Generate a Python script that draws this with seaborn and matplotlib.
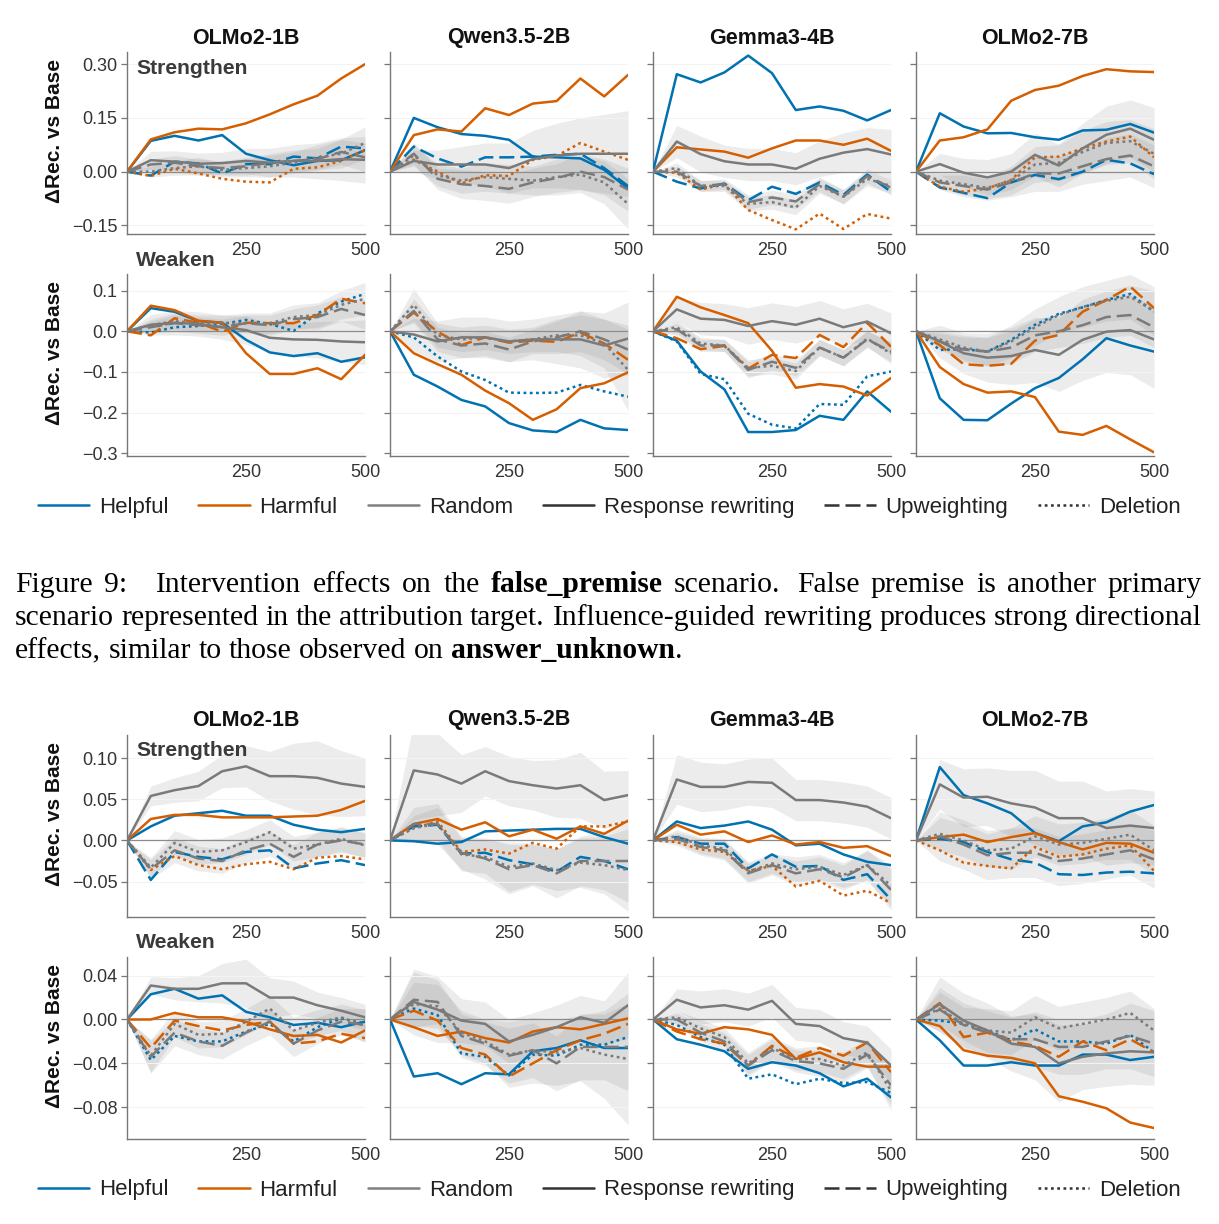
## Import libraries
import matplotlib
matplotlib.use('Agg')
import matplotlib.pyplot as plt
import pandas as pd
import seaborn as sns
from matplotlib.lines import Line2D

## Shared axes data
steps = [0, 50, 100, 150, 200, 250, 300, 350, 400, 450, 500]
models = ['OLMo2-1B', 'Qwen3.5-2B', 'Gemma3-4B', 'OLMo2-7B']
sources = ['Helpful', 'Harmful', 'Random']
methods = ['Response rewriting', 'Upweighting', 'Deletion']

## Block 1 (false_premise) - Strengthen row
fp_s1_help_rw = [0, 0.086, 0.10, 0.087, 0.102, 0.05, 0.032, 0.018, 0.03, 0.032, 0.06]
fp_s1_help_up = [0, -0.011, 0.028, 0.023, -0.005, 0.021, 0.021, 0.042, 0.037, 0.07, 0.065]
fp_s1_harm_rw = [0, 0.09, 0.11, 0.12, 0.118, 0.135, 0.16, 0.188, 0.212, 0.26, 0.30]
fp_s1_harm_del = [0, -0.012, 0.008, -0.005, -0.02, -0.028, -0.03, 0.008, 0.012, 0.03, 0.06]
fp_s1_rand_rw = [0, 0.032, 0.028, 0.022, 0.024, 0.03, 0.025, 0.03, 0.03, 0.035, 0.033]
fp_s1_rand_up = [0, 0.02, 0.025, 0.015, 0.01, 0.015, 0.025, 0.03, 0.035, 0.055, 0.04]
fp_s1_rand_del = [0, 0.0, 0.01, 0.015, 0.005, 0.01, 0.015, 0.025, 0.04, 0.05, 0.08]
fp_s1_hw_rw = [0, 0.025, 0.03, 0.03, 0.03, 0.035, 0.04, 0.045, 0.05, 0.06, 0.065]
fp_s1_hw_up = [0, 0.015, 0.02, 0.02, 0.02, 0.025, 0.025, 0.03, 0.03, 0.035, 0.04]
fp_s1_hw_del = [0, 0.015, 0.02, 0.025, 0.02, 0.025, 0.03, 0.03, 0.035, 0.04, 0.045]

fp_s2_help_rw = [0, 0.15, 0.124, 0.105, 0.10, 0.089, 0.042, 0.04, 0.037, 0.005, -0.047]
fp_s2_help_up = [0, 0.07, 0.037, 0.014, 0.04, 0.04, 0.042, 0.047, 0.05, 0.01, -0.04]
fp_s2_harm_rw = [0, 0.102, 0.118, 0.112, 0.177, 0.158, 0.19, 0.197, 0.26, 0.21, 0.27]
fp_s2_harm_del = [0, 0.033, 0.0, -0.033, -0.01, -0.012, 0.033, 0.044, 0.08, 0.056, 0.033]
fp_s2_rand_rw = [0, 0.03, 0.02, 0.02, 0.02, 0.01, 0.035, 0.045, 0.05, 0.05, 0.05]
fp_s2_rand_up = [0, 0.05, -0.02, -0.035, -0.04, -0.048, -0.03, -0.018, 0.0, -0.015, -0.05]
fp_s2_rand_del = [0, 0.045, -0.01, -0.025, -0.015, -0.02, -0.025, -0.015, -0.008, -0.03, -0.09]
fp_s2_hw_rw = [0, 0.03, 0.04, 0.05, 0.06, 0.07, 0.08, 0.09, 0.10, 0.11, 0.12]
fp_s2_hw_up = [0, 0.03, 0.03, 0.04, 0.04, 0.04, 0.04, 0.04, 0.05, 0.05, 0.06]
fp_s2_hw_del = [0, 0.03, 0.03, 0.035, 0.04, 0.04, 0.04, 0.05, 0.05, 0.06, 0.07]

fp_s3_help_rw = [0, 0.272, 0.249, 0.277, 0.324, 0.275, 0.172, 0.182, 0.17, 0.143, 0.172]
fp_s3_help_up = [0, -0.028, -0.047, -0.033, -0.08, -0.042, -0.062, -0.03, -0.065, -0.008, -0.056]
fp_s3_harm_rw = [0, 0.068, 0.062, 0.056, 0.039, 0.065, 0.087, 0.087, 0.075, 0.092, 0.058]
fp_s3_harm_del = [0, -0.003, -0.05, -0.035, -0.107, -0.135, -0.161, -0.117, -0.16, -0.118, -0.131]
fp_s3_rand_rw = [0, 0.084, 0.049, 0.029, 0.02, 0.02, 0.008, 0.036, 0.053, 0.063, 0.048]
fp_s3_rand_up = [0, 0.0, -0.04, -0.035, -0.085, -0.072, -0.083, -0.035, -0.07, -0.012, -0.045]
fp_s3_rand_del = [0, 0.01, -0.04, -0.04, -0.09, -0.085, -0.1, -0.04, -0.07, -0.02, -0.04]
fp_s3_hw_rw = [0, 0.045, 0.05, 0.045, 0.045, 0.045, 0.045, 0.05, 0.055, 0.06, 0.07]
fp_s3_hw_up = [0, 0.015, 0.015, 0.015, 0.02, 0.02, 0.02, 0.02, 0.02, 0.02, 0.02]
fp_s3_hw_del = [0, 0.015, 0.015, 0.015, 0.02, 0.02, 0.02, 0.02, 0.02, 0.02, 0.02]

fp_s4_help_rw = [0, 0.163, 0.126, 0.107, 0.108, 0.096, 0.089, 0.115, 0.117, 0.133, 0.109]
fp_s4_help_up = [0, -0.044, -0.059, -0.074, -0.03, -0.009, -0.021, 0.0, 0.033, 0.023, -0.007]
fp_s4_harm_rw = [0, 0.087, 0.096, 0.118, 0.198, 0.228, 0.24, 0.267, 0.286, 0.28, 0.278]
fp_s4_harm_del = [0, -0.042, -0.056, -0.047, -0.023, 0.04, 0.042, 0.065, 0.084, 0.098, 0.04]
fp_s4_rand_rw = [0, 0.021, -0.003, -0.016, 0.0, 0.047, 0.017, 0.065, 0.103, 0.12, 0.089]
fp_s4_rand_up = [0, -0.03, -0.04, -0.05, -0.03, -0.005, -0.005, 0.015, 0.035, 0.045, 0.015]
fp_s4_rand_del = [0, -0.025, -0.035, -0.045, -0.025, 0.02, 0.025, 0.055, 0.08, 0.085, 0.05]
fp_s4_hw_rw = [0, 0.03, 0.04, 0.05, 0.05, 0.06, 0.06, 0.07, 0.08, 0.08, 0.09]
fp_s4_hw_up = [0, 0.02, 0.03, 0.03, 0.04, 0.05, 0.05, 0.05, 0.06, 0.06, 0.06]
fp_s4_hw_del = [0, 0.02, 0.03, 0.03, 0.04, 0.05, 0.05, 0.06, 0.06, 0.06, 0.07]

## Block 1 (false_premise) - Weaken row
fp_w1_help_rw = [0, 0.057, 0.048, 0.025, 0.021, -0.021, -0.052, -0.061, -0.054, -0.075, -0.064]
fp_w1_help_del = [0, -0.003, 0.01, 0.013, 0.018, 0.028, 0.018, 0.001, 0.044, 0.073, 0.092]
fp_w1_harm_rw = [0, 0.063, 0.052, 0.026, 0.021, -0.054, -0.105, -0.105, -0.091, -0.118, -0.058]
fp_w1_harm_up = [0, -0.01, 0.032, 0.021, -0.001, 0.021, 0.02, 0.02, 0.04, 0.08, 0.069]
fp_w1_rand_rw = [0, 0.016, 0.021, 0.018, 0.01, 0.003, -0.016, -0.02, -0.021, -0.025, -0.027]
fp_w1_rand_up = [0, 0.01, 0.02, 0.015, 0.01, 0.02, 0.015, 0.03, 0.035, 0.055, 0.04]
fp_w1_rand_del = [0, 0.015, 0.025, 0.02, 0.02, 0.02, 0.02, 0.035, 0.04, 0.065, 0.08]
fp_w1_hw_rw = [0, 0.025, 0.03, 0.03, 0.03, 0.035, 0.035, 0.04, 0.045, 0.05, 0.055]
fp_w1_hw_up = [0, 0.015, 0.02, 0.02, 0.02, 0.02, 0.025, 0.025, 0.03, 0.03, 0.035]
fp_w1_hw_del = [0, 0.015, 0.02, 0.02, 0.02, 0.025, 0.025, 0.03, 0.03, 0.035, 0.04]

fp_w2_help_rw = [0, -0.107, -0.136, -0.169, -0.185, -0.226, -0.244, -0.248, -0.218, -0.239, -0.243]
fp_w2_help_del = [0, -0.015, -0.062, -0.099, -0.12, -0.151, -0.152, -0.151, -0.132, -0.148, -0.161]
fp_w2_harm_rw = [0, -0.054, -0.081, -0.107, -0.146, -0.177, -0.218, -0.192, -0.14, -0.128, -0.101]
fp_w2_harm_up = [0, 0.046, -0.001, -0.034, -0.015, -0.028, -0.023, -0.026, -0.003, -0.03, -0.07]
fp_w2_rand_rw = [0, -0.008, -0.025, -0.015, -0.015, -0.025, -0.02, -0.02, -0.02, -0.035, -0.018]
fp_w2_rand_up = [0, 0.05, -0.02, -0.035, -0.03, -0.045, -0.025, -0.015, 0.0, -0.02, -0.045]
fp_w2_rand_del = [0, 0.065, -0.01, -0.02, -0.015, -0.025, -0.02, -0.01, -0.01, -0.03, -0.095]
fp_w2_hw_rw = [0, 0.04, 0.05, 0.05, 0.05, 0.05, 0.05, 0.06, 0.07, 0.08, 0.09]
fp_w2_hw_up = [0, 0.03, 0.03, 0.03, 0.03, 0.03, 0.03, 0.04, 0.05, 0.05, 0.06]
fp_w2_hw_del = [0, 0.04, 0.03, 0.03, 0.03, 0.03, 0.03, 0.04, 0.05, 0.06, 0.10]

fp_w3_help_rw = [0, -0.023, -0.099, -0.143, -0.248, -0.248, -0.243, -0.208, -0.218, -0.148, -0.198]
fp_w3_help_del = [0, -0.025, -0.105, -0.118, -0.203, -0.23, -0.239, -0.179, -0.181, -0.111, -0.099]
fp_w3_harm_rw = [0, 0.085, 0.059, 0.04, 0.02, -0.048, -0.139, -0.13, -0.136, -0.158, -0.115]
fp_w3_harm_up = [0, -0.017, -0.044, -0.036, -0.092, -0.058, -0.066, -0.009, -0.039, 0.021, -0.038]
fp_w3_rand_rw = [0, 0.054, 0.031, 0.028, 0.013, 0.025, 0.016, 0.031, 0.01, 0.024, -0.005]
fp_w3_rand_up = [0, 0.005, -0.035, -0.035, -0.095, -0.075, -0.09, -0.04, -0.065, -0.02, -0.05]
fp_w3_rand_del = [0, 0.01, -0.03, -0.035, -0.09, -0.085, -0.098, -0.04, -0.065, -0.018, -0.055]
fp_w3_hw_rw = [0, 0.03, 0.04, 0.04, 0.045, 0.045, 0.045, 0.045, 0.045, 0.045, 0.05]
fp_w3_hw_up = [0, 0.015, 0.015, 0.015, 0.02, 0.02, 0.02, 0.02, 0.02, 0.02, 0.025]
fp_w3_hw_del = [0, 0.015, 0.015, 0.015, 0.02, 0.02, 0.02, 0.02, 0.02, 0.02, 0.025]

fp_w4_help_rw = [0, -0.165, -0.218, -0.219, -0.178, -0.14, -0.115, -0.069, -0.017, -0.035, -0.05]
fp_w4_help_del = [0, -0.046, -0.044, -0.05, -0.021, 0.016, 0.043, 0.059, 0.077, 0.092, 0.048]
fp_w4_harm_rw = [0, -0.088, -0.13, -0.151, -0.148, -0.162, -0.247, -0.255, -0.233, -0.266, -0.298]
fp_w4_harm_up = [0, -0.034, -0.081, -0.085, -0.08, -0.023, -0.009, 0.048, 0.077, 0.11, 0.057]
fp_w4_rand_rw = [0, -0.025, -0.054, -0.065, -0.061, -0.046, -0.058, -0.021, -0.001, 0.003, -0.02]
fp_w4_rand_up = [0, -0.025, -0.045, -0.05, -0.04, -0.01, 0.0, 0.015, 0.035, 0.04, 0.01]
fp_w4_rand_del = [0, -0.02, -0.04, -0.05, -0.025, 0.01, 0.04, 0.06, 0.075, 0.085, 0.05]
fp_w4_hw_rw = [0, 0.04, 0.05, 0.06, 0.07, 0.08, 0.09, 0.10, 0.10, 0.11, 0.12]
fp_w4_hw_up = [0, 0.02, 0.03, 0.035, 0.04, 0.04, 0.04, 0.045, 0.05, 0.05, 0.05]
fp_w4_hw_del = [0, 0.02, 0.03, 0.035, 0.04, 0.045, 0.045, 0.05, 0.05, 0.055, 0.06]

## Block 2 - Strengthen row
b2_s1_help_rw = [0, 0.017, 0.03, 0.033, 0.036, 0.03, 0.03, 0.019, 0.013, 0.01, 0.014]
b2_s1_help_up = [0, -0.048, -0.014, -0.02, -0.023, -0.014, -0.012, -0.034, -0.028, -0.024, -0.03]
b2_s1_harm_rw = [0, 0.026, 0.031, 0.031, 0.028, 0.028, 0.028, 0.029, 0.030, 0.037, 0.048]
b2_s1_harm_del = [0, -0.036, -0.019, -0.03, -0.035, -0.029, -0.026, -0.035, -0.021, -0.019, -0.023]
b2_s1_rand_rw = [0, 0.054, 0.061, 0.066, 0.084, 0.09, 0.078, 0.078, 0.076, 0.069, 0.065]
b2_s1_rand_up = [0, -0.035, -0.012, -0.022, -0.025, -0.012, -0.004, -0.02, -0.005, 0.0, -0.005]
b2_s1_rand_del = [0, -0.033, -0.003, -0.014, -0.012, -0.002, 0.01, -0.01, -0.005, 0.002, -0.006]
b2_s1_hw_rw = [0, 0.012, 0.015, 0.018, 0.02, 0.025, 0.03, 0.04, 0.045, 0.04, 0.035]
b2_s1_hw_up = [0, 0.012, 0.015, 0.015, 0.015, 0.015, 0.015, 0.015, 0.015, 0.015, 0.015]
b2_s1_hw_del = [0, 0.012, 0.015, 0.015, 0.015, 0.015, 0.015, 0.015, 0.015, 0.015, 0.015]

b2_s2_help_rw = [0, -0.001, -0.004, -0.002, 0.011, 0.012, 0.013, 0.014, 0.014, 0.004, -0.004]
b2_s2_help_up = [0, 0.017, 0.019, -0.016, -0.015, -0.024, -0.029, -0.038, -0.02, -0.025, -0.035]
b2_s2_harm_rw = [0, 0.02, 0.026, 0.013, 0.022, 0.005, 0.013, 0.002, 0.017, 0.008, 0.024]
b2_s2_harm_del = [0, 0.015, 0.023, -0.014, -0.011, -0.016, -0.003, -0.01, 0.017, 0.017, 0.023]
b2_s2_rand_rw = [0, 0.085, 0.08, 0.069, 0.084, 0.072, 0.067, 0.063, 0.067, 0.049, 0.055]
b2_s2_rand_up = [0, 0.02, 0.02, -0.015, -0.022, -0.035, -0.03, -0.04, -0.025, -0.025, -0.025]
b2_s2_rand_del = [0, 0.015, 0.02, -0.017, -0.02, -0.032, -0.028, -0.036, -0.027, -0.03, -0.036]
b2_s2_hw_rw = [0, 0.06, 0.05, 0.035, 0.03, 0.03, 0.03, 0.035, 0.04, 0.035, 0.03]
b2_s2_hw_up = [0, 0.02, 0.025, 0.02, 0.025, 0.03, 0.025, 0.03, 0.03, 0.035, 0.05]
b2_s2_hw_del = [0, 0.015, 0.02, 0.02, 0.02, 0.03, 0.025, 0.025, 0.03, 0.035, 0.05]

b2_s3_help_rw = [0, 0.023, 0.015, 0.018, 0.023, 0.013, -0.006, -0.004, -0.017, -0.026, -0.03]
b2_s3_help_up = [0, 0.004, -0.004, -0.004, -0.034, -0.017, -0.032, -0.031, -0.048, -0.041, -0.072]
b2_s3_harm_rw = [0, 0.019, 0.007, 0.011, -0.002, 0.006, -0.005, -0.002, -0.009, -0.007, -0.019]
b2_s3_harm_del = [0, -0.002, -0.011, -0.014, -0.037, -0.031, -0.056, -0.049, -0.067, -0.061, -0.076]
b2_s3_rand_rw = [0, 0.074, 0.065, 0.065, 0.071, 0.07, 0.049, 0.049, 0.046, 0.041, 0.027]
b2_s3_rand_up = [0, 0.002, -0.008, -0.012, -0.04, -0.03, -0.04, -0.035, -0.045, -0.03, -0.06]
b2_s3_rand_del = [0, 0.005, -0.006, -0.01, -0.038, -0.028, -0.035, -0.032, -0.042, -0.03, -0.055]
b2_s3_hw_rw = [0, 0.03, 0.03, 0.028, 0.028, 0.03, 0.025, 0.025, 0.025, 0.025, 0.025]
b2_s3_hw_up = [0, 0.008, 0.01, 0.012, 0.012, 0.012, 0.015, 0.015, 0.015, 0.018, 0.025]
b2_s3_hw_del = [0, 0.008, 0.01, 0.012, 0.012, 0.012, 0.015, 0.015, 0.015, 0.018, 0.025]

b2_s4_help_rw = [0, 0.089, 0.055, 0.045, 0.033, 0.009, -0.001, 0.017, 0.022, 0.035, 0.043]
b2_s4_help_up = [0, 0.002, -0.002, -0.014, -0.023, -0.027, -0.041, -0.042, -0.039, -0.038, -0.04]
b2_s4_harm_rw = [0, 0.004, 0.007, -0.002, 0.004, 0.009, -0.002, -0.011, -0.003, -0.004, -0.015]
b2_s4_harm_del = [0, -0.012, -0.027, -0.031, -0.034, -0.008, -0.02, -0.017, -0.01, -0.006, -0.037]
b2_s4_rand_rw = [0, 0.068, 0.052, 0.053, 0.045, 0.04, 0.027, 0.027, 0.015, 0.018, 0.015]
b2_s4_rand_up = [0, 0.005, -0.005, -0.018, -0.015, -0.015, -0.025, -0.022, -0.017, -0.012, -0.023]
b2_s4_rand_del = [0, 0.008, 0.0, -0.012, -0.01, 0.005, -0.005, -0.003, 0.002, 0.007, -0.012]
b2_s4_hw_rw = [0, 0.03, 0.035, 0.035, 0.04, 0.045, 0.045, 0.045, 0.045, 0.045, 0.045]
b2_s4_hw_up = [0, 0.03, 0.03, 0.03, 0.03, 0.03, 0.03, 0.03, 0.03, 0.03, 0.035]
b2_s4_hw_del = [0, 0.02, 0.02, 0.02, 0.025, 0.025, 0.025, 0.025, 0.025, 0.03, 0.03]

## Block 2 - Weaken row
b2_w1_help_rw = [0, 0.023, 0.028, 0.019, 0.022, 0.007, 0.002, -0.005, -0.003, -0.007, -0.002]
b2_w1_help_del = [0, -0.037, -0.015, -0.02, -0.02, -0.011, -0.004, -0.02, -0.007, 0.001, -0.004]
b2_w1_harm_rw = [0, 0.0, 0.006, 0.002, 0.002, -0.002, -0.009, -0.015, -0.014, -0.021, -0.01]
b2_w1_harm_up = [0, -0.026, -0.001, -0.006, -0.01, -0.005, -0.002, -0.022, -0.02, -0.013, -0.017]
b2_w1_rand_rw = [0, 0.031, 0.028, 0.028, 0.033, 0.033, 0.02, 0.02, 0.013, 0.008, 0.002]
b2_w1_rand_up = [0, -0.034, -0.012, -0.02, -0.024, -0.012, -0.002, -0.022, -0.01, -0.002, -0.005]
b2_w1_rand_del = [0, -0.033, -0.004, -0.014, -0.013, -0.002, 0.01, -0.01, -0.003, 0.002, -0.006]
b2_w1_hw_rw = [0, 0.008, 0.01, 0.012, 0.018, 0.022, 0.018, 0.015, 0.012, 0.012, 0.012]
b2_w1_hw_up = [0, 0.015, 0.012, 0.012, 0.012, 0.012, 0.012, 0.012, 0.012, 0.012, 0.015]
b2_w1_hw_del = [0, 0.015, 0.012, 0.012, 0.012, 0.012, 0.012, 0.012, 0.012, 0.012, 0.015]

b2_w2_help_rw = [0, -0.052, -0.049, -0.059, -0.049, -0.05, -0.029, -0.026, -0.019, -0.026, -0.026]
b2_w2_help_del = [0, 0.01, 0.004, -0.031, -0.034, -0.051, -0.032, -0.033, -0.023, -0.023, -0.016]
b2_w2_harm_rw = [0, -0.007, -0.015, -0.011, -0.017, -0.021, -0.011, -0.007, -0.009, -0.004, 0.001]
b2_w2_harm_up = [0, 0.008, -0.001, -0.026, -0.032, -0.052, -0.04, -0.028, -0.019, -0.013, -0.004]
b2_w2_rand_rw = [0, 0.016, 0.009, -0.001, -0.004, -0.02, -0.014, -0.007, 0.002, -0.003, 0.013]
b2_w2_rand_up = [0, 0.018, 0.016, -0.015, -0.022, -0.033, -0.028, -0.04, -0.025, -0.025, -0.025]
b2_w2_rand_del = [0, 0.014, 0.012, -0.012, -0.02, -0.032, -0.028, -0.03, -0.026, -0.032, -0.036]
b2_w2_hw_rw = [0, 0.03, 0.03, 0.02, 0.02, 0.02, 0.02, 0.02, 0.02, 0.02, 0.03]
b2_w2_hw_up = [0, 0.025, 0.02, 0.02, 0.02, 0.025, 0.025, 0.025, 0.03, 0.03, 0.04]
b2_w2_hw_del = [0, 0.02, 0.02, 0.02, 0.02, 0.03, 0.03, 0.03, 0.03, 0.04, 0.06]

b2_w3_help_rw = [0, -0.018, -0.023, -0.029, -0.045, -0.039, -0.042, -0.049, -0.061, -0.054, -0.071]
b2_w3_help_del = [0, -0.005, -0.016, -0.023, -0.054, -0.05, -0.059, -0.054, -0.058, -0.057, -0.067]
b2_w3_harm_rw = [0, -0.009, -0.013, -0.007, -0.009, -0.014, -0.036, -0.03, -0.039, -0.043, -0.043]
b2_w3_harm_up = [0, -0.011, -0.018, -0.022, -0.042, -0.024, -0.035, -0.026, -0.033, -0.021, -0.048]
b2_w3_rand_rw = [0, 0.018, 0.011, 0.013, 0.009, 0.017, -0.004, -0.006, -0.017, -0.021, -0.042]
b2_w3_rand_up = [0, 0.0, -0.012, -0.02, -0.042, -0.028, -0.038, -0.04, -0.045, -0.032, -0.06]
b2_w3_rand_del = [0, 0.002, -0.008, -0.016, -0.04, -0.026, -0.036, -0.036, -0.042, -0.03, -0.065]
b2_w3_hw_rw = [0, 0.01, 0.015, 0.015, 0.015, 0.015, 0.015, 0.015, 0.015, 0.015, 0.015]
b2_w3_hw_up = [0, 0.006, 0.008, 0.008, 0.01, 0.01, 0.01, 0.012, 0.012, 0.012, 0.018]
b2_w3_hw_del = [0, 0.006, 0.008, 0.008, 0.01, 0.01, 0.01, 0.012, 0.012, 0.012, 0.018]

b2_w4_help_rw = [0, -0.019, -0.042, -0.042, -0.039, -0.042, -0.042, -0.032, -0.032, -0.037, -0.034]
b2_w4_help_del = [0, -0.001, -0.004, -0.01, -0.019, -0.009, -0.02, -0.02, -0.022, -0.014, -0.03]
b2_w4_harm_rw = [0, -0.006, -0.028, -0.033, -0.035, -0.04, -0.07, -0.075, -0.081, -0.094, -0.099]
b2_w4_harm_up = [0, 0.015, -0.016, -0.012, -0.02, -0.024, -0.034, -0.02, -0.028, -0.018, -0.03]
b2_w4_rand_rw = [0, 0.014, -0.001, -0.01, -0.022, -0.025, -0.04, -0.034, -0.031, -0.029, -0.03]
b2_w4_rand_up = [0, 0.009, -0.005, -0.012, -0.018, -0.018, -0.025, -0.025, -0.02, -0.015, -0.022]
b2_w4_rand_del = [0, 0.01, -0.004, -0.01, -0.012, 0.002, -0.008, -0.004, 0.0, 0.006, -0.01]
b2_w4_hw_rw = [0, 0.025, 0.025, 0.025, 0.025, 0.03, 0.035, 0.03, 0.03, 0.03, 0.03]
b2_w4_hw_up = [0, 0.02, 0.02, 0.02, 0.02, 0.025, 0.025, 0.025, 0.025, 0.03, 0.03]
b2_w4_hw_del = [0, 0.015, 0.015, 0.02, 0.02, 0.02, 0.02, 0.02, 0.02, 0.02, 0.02]

## Axis ticks per row
fp_s_ticks = [-0.15, 0.0, 0.15, 0.30]
fp_s_labels = ['\u22120.15', '0.00', '0.15', '0.30']
fp_w_ticks = [-0.3, -0.2, -0.1, 0.0, 0.1]
fp_w_labels = ['\u22120.3', '\u22120.2', '\u22120.1', '0.0', '0.1']
b2_s_ticks = [-0.05, 0.0, 0.05, 0.10]
b2_s_labels = ['\u22120.05', '0.00', '0.05', '0.10']
b2_w_ticks = [-0.08, -0.04, 0.0, 0.04]
b2_w_labels = ['\u22120.08', '\u22120.04', '0.00', '0.04']

## Styling
sns.set_theme(style='ticks')
plt.rcParams['font.family'] = ['Liberation Sans', 'DejaVu Sans']

palette = {'Helpful': '#0072B2', 'Harmful': '#D55E00', 'Random': '#7a7a7a'}
dash_map = {'Response rewriting': '', 'Upweighting': (6, 2.4), 'Deletion': (1.1, 1.4)}

W, H = 1219, 1224
fig = plt.figure(figsize=(W / 100, H / 100), dpi=100)

col_left = [127, 390, 653, 916]
ax_w, ax_h = 238, 182


def add_ax(left, top):
    return fig.add_axes([left / W, 1 - (top + ax_h) / H, ax_w / W, ax_h / H])


def draw_panel(ax, direction, help_rw, help_alt, harm_rw, harm_alt,
               rand_rw, rand_up, rand_del, hw_rw, hw_up, hw_del,
               ylim, ticks, labels, first):
    '''Draw one intervention panel with random baseline bands.'''
    help_m = 'Upweighting' if direction == 'Strengthen' else 'Deletion'
    harm_m = 'Deletion' if direction == 'Strengthen' else 'Upweighting'
    series = [('Random', 'Response rewriting', rand_rw),
              ('Random', 'Upweighting', rand_up),
              ('Random', 'Deletion', rand_del),
              ('Harmful', harm_m, harm_alt),
              ('Helpful', help_m, help_alt),
              ('Harmful', 'Response rewriting', harm_rw),
              ('Helpful', 'Response rewriting', help_rw)]
    rows = []
    for src, meth, vals in series:
        for s, v in zip(steps, vals):
            rows.append({'step': s, 'delta': v, 'source': src, 'method': meth})
    df = pd.DataFrame(rows)

    # shaded spread of the random baselines
    for mean, hw in [(rand_rw, hw_rw), (rand_up, hw_up), (rand_del, hw_del)]:
        lo = [m - h for m, h in zip(mean, hw)]
        hi = [m + h for m, h in zip(mean, hw)]
        ax.fill_between(steps, lo, hi, color='#808080', alpha=0.15, lw=0, zorder=0)

    ax.axhline(0, color='#8c8c8c', lw=0.9, zorder=1)
    sns.lineplot(data=df, x='step', y='delta', hue='source', style='method',
                 hue_order=sources, style_order=methods, palette=palette,
                 dashes=dash_map, linewidth=1.8, legend=False, ax=ax,
                 errorbar=None, sort=False, zorder=3)

    ax.set(xlim=(0, 500), ylim=ylim, xlabel='', ylabel='')
    ax.set_xticks([250, 500])
    ax.set_xticklabels(['250', '500'])
    ax.set_yticks(ticks)
    if first:
        ax.set_yticklabels(labels)
    else:
        ax.set_yticklabels([])
    ax.grid(axis='y', color='#f3f3f3', lw=0.8)
    ax.grid(axis='x', visible=False)
    ax.set_axisbelow(True)
    sns.despine(ax=ax)
    for sp in ['left', 'bottom']:
        ax.spines[sp].set_color('#777777')
        ax.spines[sp].set_linewidth(1.0)
    ax.tick_params(axis='y', length=4, width=0.9, color='#777777',
                   labelsize=13, labelcolor='#333333', pad=3)
    ax.tick_params(axis='x', length=0, labelsize=13, labelcolor='#333333', pad=6)


## Panel list, row by row
panels = [
    (fp_s1_help_rw, fp_s1_help_up, fp_s1_harm_rw, fp_s1_harm_del, fp_s1_rand_rw, fp_s1_rand_up, fp_s1_rand_del, fp_s1_hw_rw, fp_s1_hw_up, fp_s1_hw_del),
    (fp_s2_help_rw, fp_s2_help_up, fp_s2_harm_rw, fp_s2_harm_del, fp_s2_rand_rw, fp_s2_rand_up, fp_s2_rand_del, fp_s2_hw_rw, fp_s2_hw_up, fp_s2_hw_del),
    (fp_s3_help_rw, fp_s3_help_up, fp_s3_harm_rw, fp_s3_harm_del, fp_s3_rand_rw, fp_s3_rand_up, fp_s3_rand_del, fp_s3_hw_rw, fp_s3_hw_up, fp_s3_hw_del),
    (fp_s4_help_rw, fp_s4_help_up, fp_s4_harm_rw, fp_s4_harm_del, fp_s4_rand_rw, fp_s4_rand_up, fp_s4_rand_del, fp_s4_hw_rw, fp_s4_hw_up, fp_s4_hw_del),
    (fp_w1_help_rw, fp_w1_help_del, fp_w1_harm_rw, fp_w1_harm_up, fp_w1_rand_rw, fp_w1_rand_up, fp_w1_rand_del, fp_w1_hw_rw, fp_w1_hw_up, fp_w1_hw_del),
    (fp_w2_help_rw, fp_w2_help_del, fp_w2_harm_rw, fp_w2_harm_up, fp_w2_rand_rw, fp_w2_rand_up, fp_w2_rand_del, fp_w2_hw_rw, fp_w2_hw_up, fp_w2_hw_del),
    (fp_w3_help_rw, fp_w3_help_del, fp_w3_harm_rw, fp_w3_harm_up, fp_w3_rand_rw, fp_w3_rand_up, fp_w3_rand_del, fp_w3_hw_rw, fp_w3_hw_up, fp_w3_hw_del),
    (fp_w4_help_rw, fp_w4_help_del, fp_w4_harm_rw, fp_w4_harm_up, fp_w4_rand_rw, fp_w4_rand_up, fp_w4_rand_del, fp_w4_hw_rw, fp_w4_hw_up, fp_w4_hw_del),
    (b2_s1_help_rw, b2_s1_help_up, b2_s1_harm_rw, b2_s1_harm_del, b2_s1_rand_rw, b2_s1_rand_up, b2_s1_rand_del, b2_s1_hw_rw, b2_s1_hw_up, b2_s1_hw_del),
    (b2_s2_help_rw, b2_s2_help_up, b2_s2_harm_rw, b2_s2_harm_del, b2_s2_rand_rw, b2_s2_rand_up, b2_s2_rand_del, b2_s2_hw_rw, b2_s2_hw_up, b2_s2_hw_del),
    (b2_s3_help_rw, b2_s3_help_up, b2_s3_harm_rw, b2_s3_harm_del, b2_s3_rand_rw, b2_s3_rand_up, b2_s3_rand_del, b2_s3_hw_rw, b2_s3_hw_up, b2_s3_hw_del),
    (b2_s4_help_rw, b2_s4_help_up, b2_s4_harm_rw, b2_s4_harm_del, b2_s4_rand_rw, b2_s4_rand_up, b2_s4_rand_del, b2_s4_hw_rw, b2_s4_hw_up, b2_s4_hw_del),
    (b2_w1_help_rw, b2_w1_help_del, b2_w1_harm_rw, b2_w1_harm_up, b2_w1_rand_rw, b2_w1_rand_up, b2_w1_rand_del, b2_w1_hw_rw, b2_w1_hw_up, b2_w1_hw_del),
    (b2_w2_help_rw, b2_w2_help_del, b2_w2_harm_rw, b2_w2_harm_up, b2_w2_rand_rw, b2_w2_rand_up, b2_w2_rand_del, b2_w2_hw_rw, b2_w2_hw_up, b2_w2_hw_del),
    (b2_w3_help_rw, b2_w3_help_del, b2_w3_harm_rw, b2_w3_harm_up, b2_w3_rand_rw, b2_w3_rand_up, b2_w3_rand_del, b2_w3_hw_rw, b2_w3_hw_up, b2_w3_hw_del),
    (b2_w4_help_rw, b2_w4_help_del, b2_w4_harm_rw, b2_w4_harm_up, b2_w4_rand_rw, b2_w4_rand_up, b2_w4_rand_del, b2_w4_hw_rw, b2_w4_hw_up, b2_w4_hw_del),
]

# rows: (top px, direction, ylim, ticks, labels)
row_specs = [
    (52, 'Strengthen', (-0.174, 0.334), fp_s_ticks, fp_s_labels),
    (274, 'Weaken', (-0.307, 0.141), fp_w_ticks, fp_w_labels),
    (735, 'Strengthen', (-0.093, 0.128), b2_s_ticks, b2_s_labels),
    (957, 'Weaken', (-0.109, 0.057), b2_w_ticks, b2_w_labels),
]

for r, (top, direction, ylim, ticks, labels) in enumerate(row_specs):
    for c in range(4):
        ax = add_ax(col_left[c], top)
        draw_panel(ax, direction, *panels[r * 4 + c], ylim, ticks, labels, c == 0)
    # y label per row
    fig.text(55 / W, 1 - (top + ax_h / 2 - 12) / H, '\u0394Rec. vs Base', rotation=90,
             ha='center', va='center', fontsize=15, fontweight='bold', color='#111111')

# row direction tags
for y_px, tag in [(68, 'Strengthen'), (260, 'Weaken'), (750, 'Strengthen'), (942, 'Weaken')]:
    fig.text(136 / W, 1 - y_px / H, tag, ha='left', va='center', fontsize=15.2,
             fontweight='bold', color='#3a3a3a')

# model titles
for y_px in [38, 720]:
    for c, name in enumerate(models):
        fig.text((col_left[c] + ax_w / 2) / W, 1 - y_px / H, name, ha='center',
                 va='center', fontsize=15.5, fontweight='bold', color='#111111')

## Legends
handles = [Line2D([], [], color=palette['Helpful'], lw=1.8),
           Line2D([], [], color=palette['Harmful'], lw=1.8),
           Line2D([], [], color='#808080', lw=1.8),
           Line2D([], [], color='#333333', lw=1.8),
           Line2D([], [], color='#333333', lw=1.8, dashes=dash_map['Upweighting']),
           Line2D([], [], color='#333333', lw=1.8, dashes=dash_map['Deletion'])]
leg_labels = sources + methods
for y_px in [507, 1190]:
    leg = fig.legend(handles, leg_labels, loc='center', bbox_to_anchor=(0.5, 1 - y_px / H),
                     ncol=6, frameon=False, fontsize=16, handlelength=2.3,
                     handletextpad=0.45, columnspacing=1.35)
    for t in leg.get_texts():
        t.set_color('#222222')

## Caption (justified by hand)
renderer = fig.canvas.get_renderer()
serif = 'Liberation Serif'


def word_width(word, bold, size):
    t = fig.text(0, 0, word, fontsize=size, family=serif,
                 fontweight='bold' if bold else 'normal')
    w = t.get_window_extent(renderer).width
    t.remove()
    return w


line1 = [('Figure', 0, 0), ('9:', 0, 1), ('Intervention', 0, 2.6), ('effects', 0, 1),
         ('on', 0, 1), ('the', 0, 1), ('false_premise', 1, 1), ('scenario.', 0, 1),
         ('False', 0, 1.5), ('premise', 0, 1), ('is', 0, 1), ('another', 0, 1),
         ('primary', 0, 1)]
line2 = [('scenario', 0, 0), ('represented', 0, 1), ('in', 0, 1), ('the', 0, 1),
         ('attribution', 0, 1), ('target.', 0, 1), ('Influence-guided', 0, 1.3),
         ('rewriting', 0, 1), ('produces', 0, 1), ('strong', 0, 1), ('directional', 0, 1)]
line3 = [('effects,', 0, 0), ('similar', 0, 1), ('to', 0, 1), ('those', 0, 1),
         ('observed', 0, 1), ('on', 0, 1), ('answer_unknown', 1, 1), ('.', 0, 0)]

# fit size so the last (natural) line spans its measured width
base = 20
space = word_width('a a', 0, base) - word_width('aa', 0, base)
nat = sum(word_width(w, b, base) for w, b, _ in line3) + space * sum(g for _, _, g in line3)
cap_size = base * 665 / nat


def put_line(tokens, y_px, justify, x0=15, x1=1202):
    widths = [word_width(w, b, cap_size) for w, b, _ in tokens]
    weights = sum(g for _, _, g in tokens)
    if justify:
        unit = (x1 - x0 - sum(widths)) / weights
    else:
        unit = word_width('a a', 0, cap_size) - word_width('aa', 0, cap_size)
    x = x0
    for (w, b, g), wd in zip(tokens, widths):
        x += g * unit
        fig.text(x / W, 1 - y_px / H, w, fontsize=cap_size, family=serif,
                 fontweight='bold' if b else 'normal', va='baseline', ha='left',
                 color='black')
        x += wd


put_line(line1, 592, True)
put_line(line2, 625, True)
put_line(line3, 658, False)

fig.savefig('out.png', dpi=100)
